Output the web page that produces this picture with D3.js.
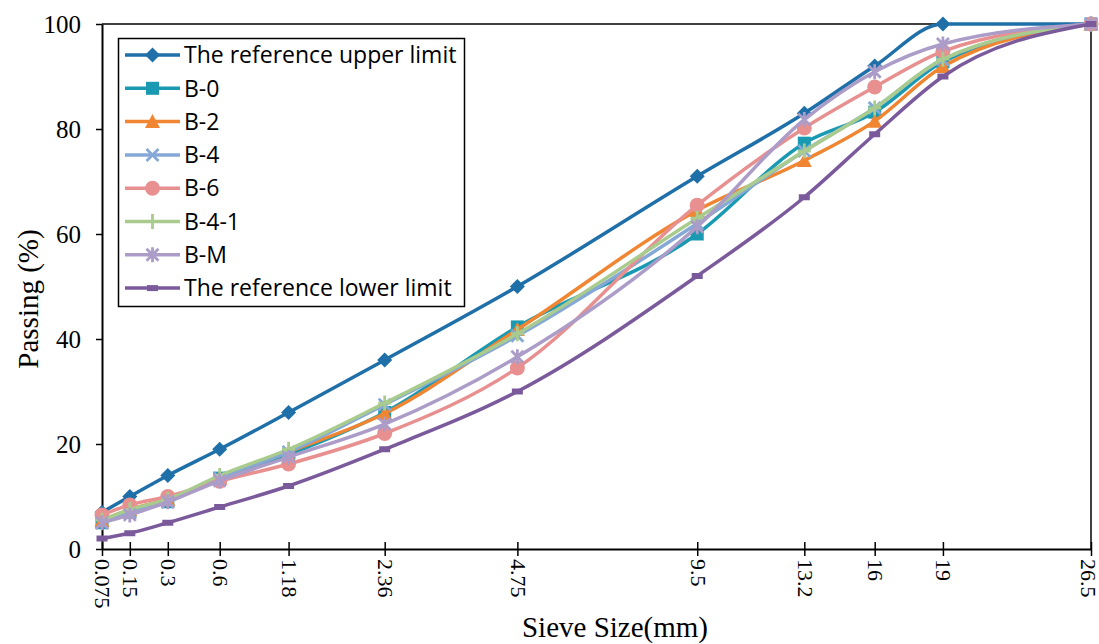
<!DOCTYPE html>
<html><head><meta charset="utf-8">
<script src="https://cdn.jsdelivr.net/npm/d3@7"></script>
<style>body{margin:0;background:#fff}svg{display:block}</style>
</head><body>
<svg id="c" width="1099" height="644"></svg>
<script>
const sieveSizes = [0.075, 0.15, 0.3, 0.6, 1.18, 2.36, 4.75, 9.5, 13.2, 16, 19, 26.5];
const tickLabels = ["0.075","0.15","0.3","0.6","1.18","2.36","4.75","9.5","13.2","16","19","26.5"];
const yTicks = [0, 20, 40, 60, 80, 100];
const upperLimit = [7, 10, 14, 19, 26, 36, 50, 71, 83, 92, 100, 100];
const b0   = [5, 7, 9, 13.5, 18, 26, 42.3, 60, 77.3, 83.2, 92.8, 100];
const b2   = [5.5, 7.5, 9.5, 13.5, 18.5, 25.8, 41.8, 64.5, 74, 81.5, 91.9, 100];
const b4   = [5, 7, 9, 13.5, 18.5, 27.5, 40.6, 62, 75.8, 84, 93.2, 100];
const b6   = [6.5, 8.4, 10, 12.9, 16.2, 22, 34.5, 65.5, 80.2, 88, 94.8, 100];
const b41  = [5.5, 7.5, 9.5, 14, 19, 27.8, 41, 63, 75.8, 84, 93.3, 100];
const bM   = [5, 6.5, 9, 13, 17.5, 23.8, 36.6, 61.4, 81.8, 90.9, 96.2, 100];
const lowerLimit = [2, 3, 5, 8, 12, 19, 30, 52, 67, 79, 90, 100];
const seriesNames = ["The reference upper limit","B-0","B-2","B-4","B-6","B-4-1","B-M","The reference lower limit"];

const series = [
  {name: seriesNames[0], values: upperLimit, color: "#1f6fa8", marker: "diamond"},
  {name: seriesNames[1], values: b0, color: "#1a9ab2", marker: "square"},
  {name: seriesNames[2], values: b2, color: "#f08532", marker: "triangle"},
  {name: seriesNames[3], values: b4, color: "#85a8d6", marker: "x"},
  {name: seriesNames[4], values: b6, color: "#e89090", marker: "circle"},
  {name: seriesNames[5], values: b41, color: "#a9cc8e", marker: "plus"},
  {name: seriesNames[6], values: bM, color: "#ab9cc8", marker: "asterisk"},
  {name: seriesNames[7], values: lowerLimit, color: "#7b5a9c", marker: "dash"}
];

const svg = d3.select("#c");
const L = 102, R = 1091, T = 24, B = 549;
const x = d3.scalePow().exponent(0.45).domain([0.075, 26.5]).range([L, R]);
const y = d3.scaleLinear().domain([0, 100]).range([B, T]);

// frame top/right
svg.append("line").attr("x1", L).attr("x2", R).attr("y1", T).attr("y2", T).attr("stroke", "#000").attr("stroke-width", 1.5);
svg.append("line").attr("x1", R).attr("x2", R).attr("y1", T).attr("y2", B).attr("stroke", "#000").attr("stroke-width", 1.5);

// y axis
const ya = svg.append("g").attr("transform", `translate(${L},0)`)
  .call(d3.axisLeft(y).tickValues(yTicks).tickSize(6).tickPadding(15).tickSizeOuter(0));
ya.select(".domain").attr("stroke-width", 2);
ya.selectAll(".tick line").attr("stroke-width", 1.5);
ya.selectAll("text").attr("font-family", "Liberation Serif, serif").attr("font-size", 25).attr("fill", "#000");

// x axis
const xa = svg.append("g").attr("transform", `translate(0,${B})`)
  .call(d3.axisBottom(x).tickValues(sieveSizes).tickFormat((d, i) => tickLabels[i]).tickSize(7).tickSizeOuter(0));
xa.select(".domain").attr("stroke-width", 2);
xa.selectAll(".tick line").attr("y1", -7).attr("y2", 7).attr("stroke-width", 1.5);
const lastIdx = sieveSizes.length - 1;
xa.selectAll(".tick text")
  .attr("font-family", "Liberation Serif, serif").attr("font-size", 22).attr("fill", "#000")
  .attr("transform", "rotate(90)").attr("x", 10).attr("y", 0)
  .attr("dy", (d, i) => i === lastIdx ? "0.5em" : "0.32em")
  .attr("text-anchor", "start");

// axis titles
svg.append("text").attr("transform", `translate(38,299) rotate(-90)`).attr("text-anchor", "middle")
  .attr("font-family", "Liberation Serif, serif").attr("font-size", 29).text("Passing (%)");
svg.append("text").attr("x", 615).attr("y", 637).attr("text-anchor", "middle")
  .attr("font-family", "Liberation Serif, serif").attr("font-size", 29).text("Sieve Size(mm)");

const line = d3.line().x((d, i) => x(sieveSizes[i])).y(d => y(d)).curve(d3.curveMonotoneX);

function drawMarker(g, type, color, cx, cy) {
  switch (type) {
    case "diamond":
      g.append("path").attr("d", `M${cx},${cy-7.5}L${cx+7.5},${cy}L${cx},${cy+7.5}L${cx-7.5},${cy}Z`).attr("fill", color); break;
    case "square":
      g.append("rect").attr("x", cx-6.5).attr("y", cy-6.5).attr("width", 13).attr("height", 13).attr("fill", color); break;
    case "triangle":
      g.append("path").attr("d", `M${cx},${cy-7.5}L${cx+7.5},${cy+6.5}L${cx-7.5},${cy+6.5}Z`).attr("fill", color); break;
    case "circle":
      g.append("circle").attr("cx", cx).attr("cy", cy).attr("r", 7.5).attr("fill", color); break;
    case "x":
      g.append("path").attr("d", `M${cx-6},${cy-6}L${cx+6},${cy+6}M${cx-6},${cy+6}L${cx+6},${cy-6}`)
        .attr("stroke", color).attr("stroke-width", 2.8); break;
    case "plus":
      g.append("path").attr("d", `M${cx-6.5},${cy}L${cx+6.5},${cy}M${cx},${cy-7.5}L${cx},${cy+7.5}`)
        .attr("stroke", color).attr("stroke-width", 2.8); break;
    case "asterisk":
      g.append("path").attr("d", `M${cx-6},${cy-6}L${cx+6},${cy+6}M${cx-6},${cy+6}L${cx+6},${cy-6}M${cx},${cy-7.5}L${cx},${cy+7.5}`)
        .attr("stroke", color).attr("stroke-width", 2.8); break;
    case "dash":
      g.append("rect").attr("x", cx-5.5).attr("y", cy-3).attr("width", 11).attr("height", 6).attr("fill", color); break;
  }
}

const plot = svg.append("g");
series.forEach(s => {
  const g = plot.append("g");
  g.append("path").attr("d", line(s.values)).attr("fill", "none").attr("stroke", s.color).attr("stroke-width", 3.5);
  s.values.forEach((v, i) => drawMarker(g, s.marker, s.color, x(sieveSizes[i]), y(v)));
});

// legend
const lg = svg.append("g");
lg.append("rect").attr("x", 118.5).attr("y", 38.5).attr("width", 346).attr("height", 268)
  .attr("fill", "#fff").attr("stroke", "#000").attr("stroke-width", 1.5);
series.forEach((s, i) => {
  const cy = 55 + i * 33.3;
  lg.append("line").attr("x1", 125).attr("x2", 180).attr("y1", cy).attr("y2", cy).attr("stroke", s.color).attr("stroke-width", 3.5);
  drawMarker(lg, s.marker, s.color, 152.5, cy);
  lg.append("text").attr("x", 184).attr("y", cy).attr("dy", "0.36em")
    .attr("font-family", "Open Sans, sans-serif").attr("font-size", 23).attr("fill", "#000").text(s.name);
});
</script>
</body></html>
